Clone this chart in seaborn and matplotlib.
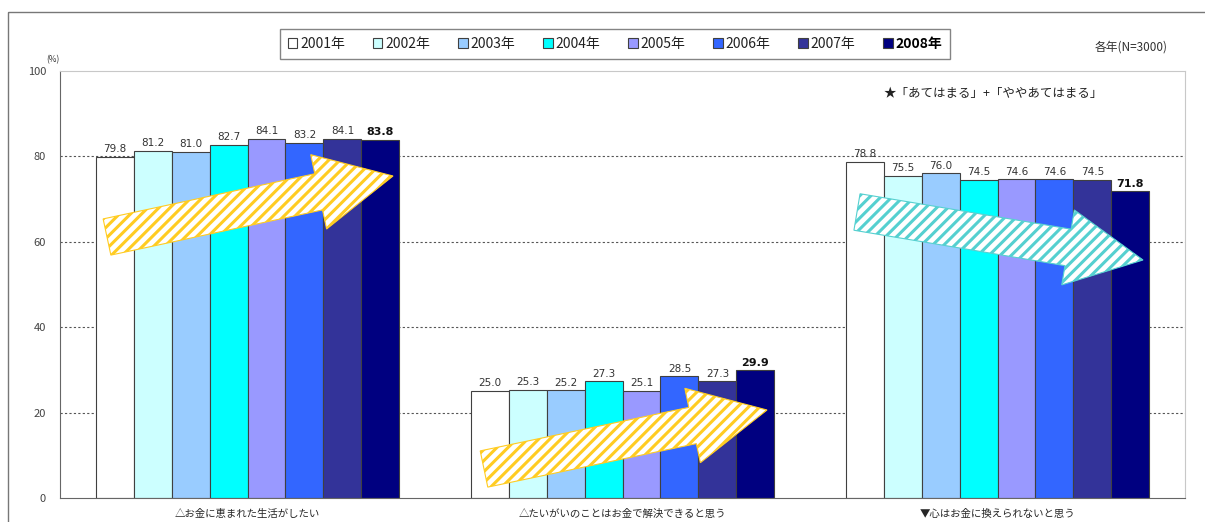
import matplotlib
matplotlib.use("Agg")
import matplotlib.pyplot as plt
import matplotlib.patches as mpatches
import matplotlib.transforms as mtransforms
import seaborn as sns
import pandas as pd

items = ["△お金に恵まれた生活がしたい",
         "△たいがいのことはお金で解決できると思う",
         "▼心はお金に換えられないと思う"]
years = ["2001年", "2002年", "2003年", "2004年", "2005年", "2006年", "2007年", "2008年"]
colors = ["#FFFFFF", "#CCFFFF", "#99CCFF", "#00FFFF", "#9999FF", "#3366FF", "#333399", "#000080"]

v2001 = [79.8, 25.0, 78.8]
v2002 = [81.2, 25.3, 75.5]
v2003 = [81.0, 25.2, 76.0]
v2004 = [82.7, 27.3, 74.5]
v2005 = [84.1, 25.1, 74.6]
v2006 = [83.2, 28.5, 74.6]
v2007 = [84.1, 27.3, 74.5]
v2008 = [83.8, 29.9, 71.8]
series = [v2001, v2002, v2003, v2004, v2005, v2006, v2007, v2008]

rows = []
for yr, vals in zip(years, series):
    for it, v in zip(items, vals):
        rows.append({"item": it, "year": yr, "value": v})
df = pd.DataFrame(rows)

sns.set_style("white")
plt.rcParams["font.family"] = ["Noto Sans CJK JP", "DejaVu Sans"]
plt.rcParams["hatch.linewidth"] = 2.2

W, H = 1205, 522
fig = plt.figure(figsize=(W / 100, H / 100), dpi=100)
ax = fig.add_axes([60 / W, 24 / H, 1125 / W, 427 / H])

sns.barplot(data=df, x="item", y="value", hue="year", order=items, hue_order=years,
            palette=colors, saturation=1, width=0.81, edgecolor="#404040",
            linewidth=0.8, ax=ax, legend=True, errorbar=None)

ax.set_ylim(0, 100)
ax.set_xlim(-0.5, 2.5)
ax.set_yticks([0, 20, 40, 60, 80, 100])
ax.set_xlabel("")
ax.set_ylabel("")
ax.tick_params(axis="y", length=0, pad=10, labelsize=8, labelcolor="#444444")
ax.tick_params(axis="x", length=0, pad=8, labelsize=7.5)
for y in [20, 40, 60, 80]:
    ax.axhline(y, color="#555555", linestyle=(0, (2, 2)), linewidth=0.8, zorder=0)
for s in ["left", "bottom"]:
    ax.spines[s].set_color("#666666")
for s in ["top", "right"]:
    ax.spines[s].set_color("#C8C8C8")

for i, cont in enumerate(ax.containers):
    last = i == len(ax.containers) - 1
    ax.bar_label(cont, labels=[f"{v:.1f}" for v in series[i]], padding=2,
                 fontsize=8 if last else 7.5,
                 fontweight="bold" if last else "normal",
                 color="#111111" if last else "#333333", family="DejaVu Sans")

# legend
handles, labels = ax.get_legend_handles_labels()
ax.get_legend().remove()
leg = fig.legend(handles, labels, loc="center", bbox_to_anchor=(615 / W, 1 - 44 / H),
                 ncol=8, fontsize=10, frameon=True, fancybox=False, edgecolor="#666666",
                 handlelength=0.7, handleheight=0.7, handletextpad=0.2,
                 columnspacing=2.0, borderpad=0.55)
leg.get_frame().set_linewidth(1.0)
for t in leg.get_texts():
    t.set_color("#222222")
leg.get_texts()[-1].set_fontweight("bold")
leg.get_texts()[-1].set_color("#000000")

# pixel transform (image coords, origin top-left)
px = mtransforms.Affine2D().scale(1 / W, -1 / H).translate(0, 1) + fig.transFigure

# trend arrows
arrows = [((107, 237), (393, 176), "#FFCC22"),
          ((484, 469), (767, 410), "#FFCC22"),
          ((857, 212), (1143, 260), "#55D0D0")]
for (x0, y0), (x1, y1), c in arrows:
    ar = mpatches.FancyArrow(x0, y0, x1 - x0, y1 - y0, width=37, head_width=76,
                             head_length=76, length_includes_head=True,
                             facecolor="white", edgecolor=c, hatch="///",
                             linewidth=0.8, transform=px, zorder=5)
    fig.patches.append(ar)

# outer frame
frame = mpatches.Rectangle((8, 12), 1300, 600, fill=False, edgecolor="#777777",
                           linewidth=1.0, transform=px)
fig.patches.append(frame)

fig.text(53 / W, 1 - 60 / H, "(%)", fontsize=6, ha="center", va="center", color="#333333")
fig.text(1131 / W, 1 - 47 / H, "各年(N=3000)", fontsize=8.5, ha="center", va="center",
         color="#333333")
fig.text(993 / W, 1 - 94 / H, "★「あてはまる」+「ややあてはまる」", fontsize=9,
         ha="center", va="center", color="#222222")

fig.savefig("out.png", dpi=100)
